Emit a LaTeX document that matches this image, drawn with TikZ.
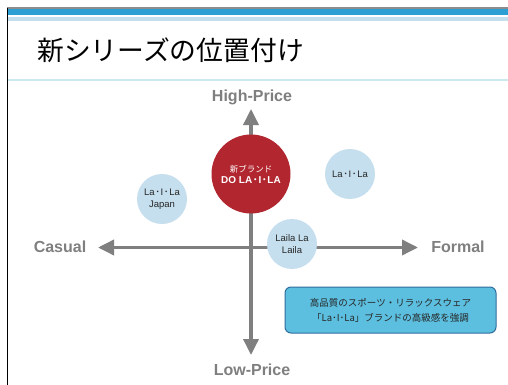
\documentclass[tikz,border=0pt]{standalone}
\usepackage{fontspec}
\setmainfont{Liberation Sans}
\newfontfamily\jp{Noto Sans CJK JP}
\usetikzlibrary{arrows.meta}
\definecolor{axisgray}{HTML}{7F7F7F}
\definecolor{labelgray}{HTML}{7F7F7F}
\definecolor{topgray}{HTML}{8C8C8C}
\definecolor{topblue}{HTML}{2B9FD3}
\definecolor{lightband}{HTML}{C3DEEC}
\definecolor{sepline}{HTML}{CDE9EF}
\definecolor{brandred}{HTML}{B2262F}
\definecolor{bubble}{HTML}{C5DFEE}
\definecolor{boxfill}{HTML}{5CBFE0}
\definecolor{boxdraw}{HTML}{2F6E9C}
\tikzset{
  axisline/.style={draw=axisgray, line width=3.5pt, {Triangle[length=16pt,width=15pt]}-{Triangle[length=16pt,width=15pt]}},
  axislabel/.style={text=labelgray, font=\fontsize{16}{18}\selectfont\bfseries, inner sep=0pt},
  bubblenode/.style={circle, fill=bubble, minimum size=50pt, inner sep=0pt, align=center, font=\fontsize{9.5}{11.5}\selectfont, text=black!85},
  brandnode/.style={circle, fill=brandred, minimum size=79pt, inner sep=0pt, align=center, text=white},
  notebox/.style={rectangle, rounded corners=6pt, fill=boxfill, draw=boxdraw, line width=1pt, minimum width=211pt, minimum height=46pt, align=center, font=\jp\fontsize{9.5}{15}\selectfont, text=black!85}
}
\newcommand{\jdot}{\kern0.6pt{\jp ･}\kern0.6pt}
\begin{document}
\begin{tikzpicture}[x=1pt,y=-1pt]
\useasboundingbox (0,0) rectangle (508,385);
\fill[white] (0,0) rectangle (508,385);
% header
\fill[topgray] (7,7.3) rectangle (508,9);
\fill[topblue] (7,9) rectangle (508,15.3);
\fill[lightband] (7,17) rectangle (508,21);
\fill[sepline] (7,79) rectangle (508,81.5);
\draw[black, line width=1.6pt] (7.6,8) -- (7.6,385);
\node[anchor=west, inner sep=0pt, font=\jp\fontsize{26.8}{28}\selectfont] (title) at (37,50) {新シリーズの位置付け};
% axis labels
\node[axislabel] (high) at (252,97) {High-Price};
\node[axislabel] (low) at (252,370) {Low-Price};
\node[axislabel] (casual) at (60,247) {Casual};
\node[axislabel] (formal) at (458,247) {Formal};
% axes
\coordinate (ltip) at (98,247.5);
\coordinate (rtip) at (418,247.5);
\coordinate (ttip) at (251,109);
\coordinate (btip) at (251,355);
\draw[axisline] (ltip) -- (rtip);
\draw[axisline] (btip) -- (ttip);
% bubbles
\node[brandnode] (brand) at (251,174) {{\jp\fontsize{8.5}{12}\selectfont 新ブランド}\\[-1pt]{\fontsize{10}{12}\selectfont\bfseries DO LA\jdot I\jdot LA}};
\node[bubblenode] (japan) at (162,199) {La\jdot I\jdot La\\Japan};
\node[bubblenode] (lail) at (350,174) {La\jdot I\jdot La};
\node[bubblenode] (laila) at (292,244) {Laila La\\Laila};
% note box
\node[notebox] (note) at (390.5,310) {高品質のスポーツ・リラックスウェア\\「La･I･La」ブランドの高級感を強調};
\end{tikzpicture}
\end{document}
